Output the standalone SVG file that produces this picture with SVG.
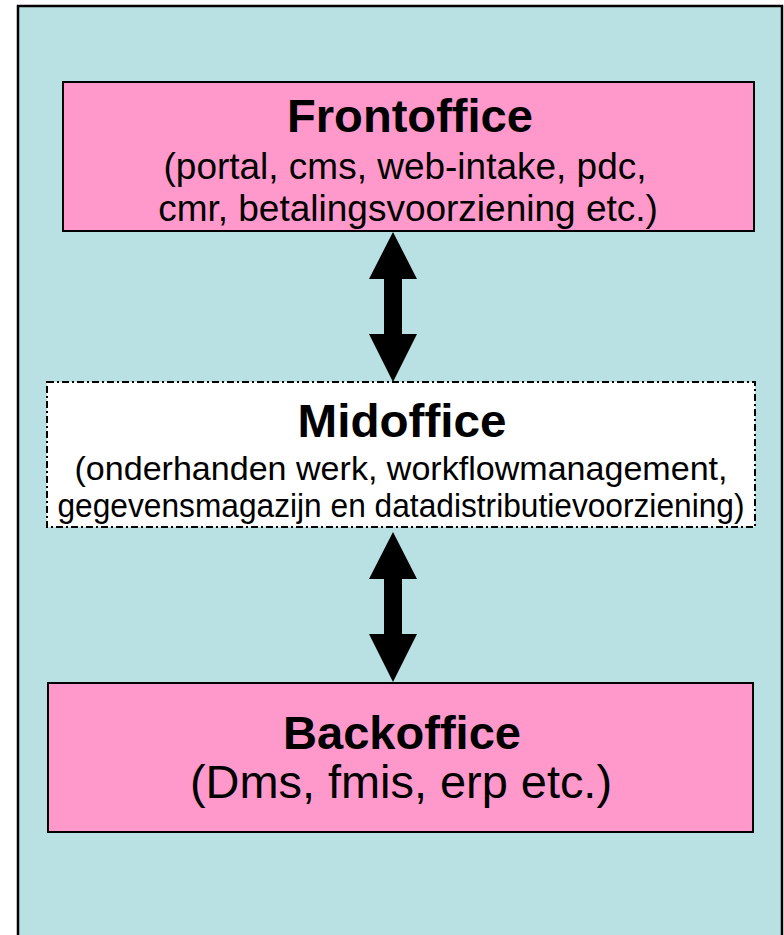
<svg xmlns="http://www.w3.org/2000/svg" width="784" height="935" viewBox="0 0 784 935">
<style>
.box{fill:#FF99CC;stroke:#000;stroke-width:2}
.mid{fill:#FFFFFF;stroke:#000;stroke-width:2;stroke-dasharray:7 3 2 3}
.t{font-family:"Liberation Sans",Arial,sans-serif;fill:#000;text-anchor:middle}
.b{font-weight:bold;font-size:47px}
.arrow{fill:#000}
</style>
<rect x="0" y="0" width="784" height="935" fill="#FFFFFF"/>
<rect id="outer" x="18" y="6" width="764" height="940" fill="#B9E0E3" stroke="#000" stroke-width="2.5"/>
<g id="connectors">
<polygon class="arrow" points="393,232 417,279 402,279 402,334 417,334 393,382 369,334 384,334 384,279 369,279"/>
<polygon class="arrow" points="393,532 417,579 402,579 402,634 417,634 393,682 369,634 384,634 384,579 369,579"/>
</g>
<g id="frontoffice">
<rect class="box" x="63" y="82" width="691" height="149"/>
<text class="t b" x="410" y="132" textLength="246" lengthAdjust="spacingAndGlyphs">Frontoffice</text>
<text class="t" x="405" y="179" font-size="37" textLength="483" lengthAdjust="spacingAndGlyphs">(portal, cms, web-intake, pdc,</text>
<text class="t" x="408" y="221" font-size="37">cmr, betalingsvoorziening etc.)</text>
</g>
<g id="midoffice">
<rect class="mid" x="47" y="382" width="708" height="145"/>
<text class="t b" x="402" y="437" textLength="209" lengthAdjust="spacingAndGlyphs">Midoffice</text>
<text class="t" x="401" y="480" font-size="33" textLength="653" lengthAdjust="spacingAndGlyphs">(onderhanden werk, workflowmanagement,</text>
<text class="t" x="401" y="517" font-size="33" textLength="687" lengthAdjust="spacingAndGlyphs">gegevensmagazijn en datadistributievoorziening)</text>
</g>
<g id="backoffice">
<rect class="box" x="48" y="683" width="705" height="149"/>
<text class="t b" x="402" y="749" textLength="238" lengthAdjust="spacingAndGlyphs">Backoffice</text>
<text class="t" x="401" y="798" font-size="47" textLength="422" lengthAdjust="spacingAndGlyphs">(Dms, fmis, erp etc.)</text>
</g>
</svg>
